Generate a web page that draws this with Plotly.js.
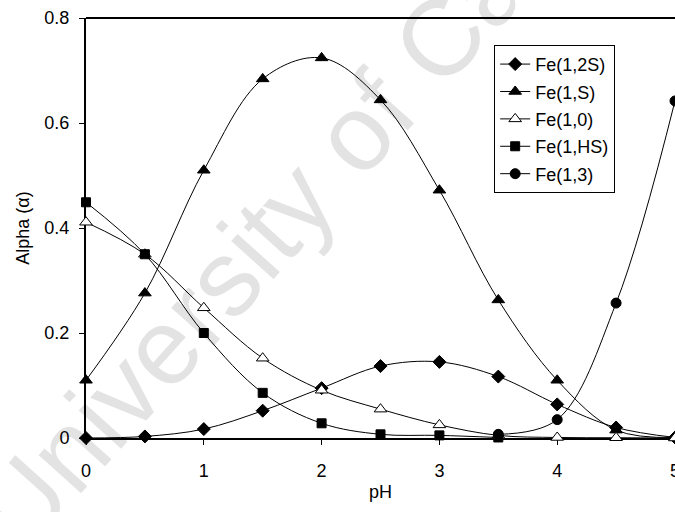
<!DOCTYPE html>
<html>
<head>
<meta charset="utf-8">
<script src="https://cdn.plot.ly/plotly-3.0.1.min.js"></script>
<style>html,body{margin:0;padding:0;background:#fff;overflow:hidden;}#chart{width:675px;height:512px;}</style>
</head>
<body>
<div id="chart"></div>
<script>
// Data
var pH = [0, 0.5, 1, 1.5, 2, 2.5, 3, 3.5, 4, 4.5, 5];
var fe12S = [0, 0.003, 0.017, 0.052, 0.095, 0.137, 0.145, 0.117, 0.064, 0.020, 0.001];
var fe1S  = [0.110, 0.276, 0.510, 0.684, 0.724, 0.644, 0.472, 0.263, 0.110, 0.015, 0.001];
var fe10  = [0.411, 0.350, 0.248, 0.152, 0.091, 0.055, 0.025, 0.005, 0.001, 0.0005, 0];
var pHHS  = [0, 0.5, 1, 1.5, 2, 2.5, 3, 3.5];
var feHS  = [0.449, 0.350, 0.200, 0.086, 0.028, 0.007, 0.005, 0.001];
var pH13  = [3.5, 4, 4.5, 5];
var fe13  = [0.007, 0.035, 0.257, 0.642];
var names = ['Fe(1,2S)', 'Fe(1,S)', 'Fe(1,0)', 'Fe(1,HS)', 'Fe(1,3)'];
var yTicks = [0, 0.2, 0.4, 0.6, 0.8];
var yTickText = ['0', '0.2', '0.4', '0.6', '0.8'];
var xTicks = [0, 1, 2, 3, 4, 5];

var FONT = '"Liberation Sans", Arial, Helvetica, sans-serif';
function tr(x, y, name, symbol, size, fill, grp) {
  return {
    x: x, y: y, name: name, type: 'scatter', mode: 'lines+markers',
    legendgroup: grp, cliponaxis: false,
    line: {color: '#000', width: 1, shape: 'spline', smoothing: 1},
    marker: {symbol: symbol, size: size, color: fill, line: {color: '#000', width: 1}}
  };
}
var data = [
  tr(pH, fe12S, names[0], 'diamond', 10, '#000', 'a'),
  tr(pH, fe1S, names[1], 'triangle-up', 11, '#000', 'b'),
  tr(pH, fe10, names[2], 'triangle-up', 11, '#fff', 'c'),
  tr(pHHS, feHS, names[3], 'square', 9, '#000', 'd'),
  tr(pH13, fe13, names[4], 'circle', 10, '#000', 'e')
];

var layout = {
  width: 675, height: 512,
  margin: {l: 86, r: 0, t: 18, b: 74, pad: 0},
  paper_bgcolor: '#fff', plot_bgcolor: 'rgba(0,0,0,0)',
  font: {family: FONT, size: 18, color: '#000'},
  showlegend: true,
  legend: {
    x: 0.693, y: 0.936, xanchor: 'left', yanchor: 'top',
    bgcolor: '#fff', bordercolor: '#000', borderwidth: 1,
    font: {family: FONT, size: 18, color: '#000'},
    traceorder: 'grouped', tracegroupgap: 1
  },
  xaxis: {
    range: [0, 5], tickvals: xTicks, ticktext: xTicks.map(String),
    showgrid: false, zeroline: false, showline: true, linecolor: '#000', linewidth: 2,
    ticks: 'outside', ticklen: 5, tickcolor: '#000', tickwidth: 1,
    ticklabelstandoff: 10, ticklabeloverflow: 'allow',
    tickfont: {family: FONT, size: 18}, layer: 'below traces',
    title: {text: 'pH', font: {family: FONT, size: 18}, standoff: 6}
  },
  yaxis: {
    range: [0, 0.8], tickvals: yTicks, ticktext: yTickText,
    showgrid: false, zeroline: false, showline: true, linecolor: '#000', linewidth: 2,
    ticks: 'outside', ticklen: 5, tickcolor: '#000', tickwidth: 1,
    ticklabelstandoff: 6,
    tickfont: {family: FONT, size: 18}, layer: 'below traces',
    title: {text: 'Alpha (α)', font: {family: FONT, size: 18}, standoff: 10}
  },
  shapes: [{
    type: 'line', xref: 'paper', yref: 'paper', x0: 0, x1: 1, y0: 1, y1: 1,
    line: {color: '#000', width: 2}, layer: 'below'
  }],
  annotations: [{
    text: 'University of Cape Town', xref: 'paper', yref: 'paper',
    x: 0.508, y: 0.805, xanchor: 'center', yanchor: 'middle', showarrow: false,
    textangle: -48, font: {family: FONT, size: 108, color: 'rgba(0,0,0,0.11)'}
  }]
};
Plotly.newPlot('chart', data, layout, {displayModeBar: false, staticPlot: true});
</script>
</body>
</html>
